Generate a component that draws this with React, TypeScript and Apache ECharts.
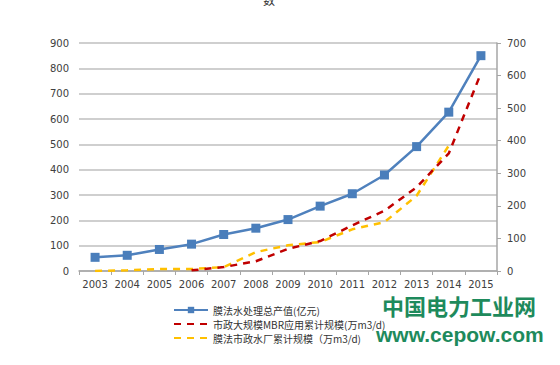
import React, { useEffect, useRef } from "react";
import * as echarts from "echarts";

const years = ["2003","2004","2005","2006","2007","2008","2009","2010","2011","2012","2013","2014","2015"];
const outputValue = [54, 62, 85, 106, 144, 169, 203, 256, 305, 379, 491, 627, 850];
const mbrScale = [null, null, null, 2, 12, 30, 68, 92, 140, 185, 257, 361, 607];
const plantScale = [0, 2, 6, 6, 12, 58, 79, 89, 128, 150, 231, 385, null];
const leftTicks = { min: 0, max: 900, interval: 100 };
const rightTicks = { min: 0, max: 700, interval: 100 };
const seriesNames = ["膜法水处理总产值(亿元)", "市政大规模MBR应用累计规模(万m3/d)", "膜法市政水厂累计规模（万m3/d)"];

export default function App() {
  const ref = useRef<HTMLDivElement>(null);
  useEffect(() => {
    const chart = echarts.init(ref.current!, null, { renderer: "svg" });
    const axisLabel = { color: "#404040", fontSize: 10, fontFamily: "DejaVu Sans" };
    chart.setOption({
      animation: false,
      backgroundColor: "#ffffff",
      grid: { left: 79, right: 63, top: 43, bottom: 94 },
      legend: {
        orient: "vertical",
        left: 168,
        top: 300,
        itemWidth: 34,
        itemHeight: 8,
        itemGap: 4,
        textStyle: { color: "#333", fontSize: 10, fontFamily: "Noto Sans CJK SC" },
        data: [
          { name: seriesNames[0] },
          { name: seriesNames[1], itemStyle: { opacity: 0 } },
          { name: seriesNames[2], itemStyle: { opacity: 0 } },
        ],
      },
      xAxis: {
        type: "category",
        data: years,
        boundaryGap: true,
        axisLine: { lineStyle: { color: "#a6a6a6", width: 1.5 } },
        axisTick: { show: true, length: 4, lineStyle: { color: "#a6a6a6" } },
        axisLabel: { ...axisLabel, margin: 8, interval: 0 },
      },
      yAxis: [
        {
          type: "value",
          ...leftTicks,
          axisLine: { show: false },
          axisTick: { show: false },
          axisLabel: { ...axisLabel, margin: 10 },
          splitLine: { lineStyle: { color: "#bfbfbf", width: 1.5 } },
        },
        {
          type: "value",
          ...rightTicks,
          position: "right",
          axisLine: { show: true, lineStyle: { color: "#a6a6a6", width: 1.5 } },
          axisTick: { show: true, length: 4, lineStyle: { color: "#a6a6a6" } },
          axisLabel: { ...axisLabel, margin: 10 },
          splitLine: { show: false },
        },
      ],
      series: [
        {
          name: seriesNames[0],
          type: "line",
          yAxisIndex: 0,
          data: outputValue,
          symbol: "rect",
          symbolSize: 9,
          lineStyle: { color: "#4f81bd", width: 2.5 },
          itemStyle: { color: "#4a7ebb" },
          z: 3,
        },
        {
          name: seriesNames[1],
          type: "line",
          yAxisIndex: 1,
          data: mbrScale,
          symbol: "none",
          lineStyle: { color: "#c00000", width: 2.5, type: [7, 6] },
          itemStyle: { color: "#c00000" },
          z: 2,
        },
        {
          name: seriesNames[2],
          type: "line",
          yAxisIndex: 1,
          data: plantScale,
          symbol: "none",
          lineStyle: { color: "#ffc000", width: 2.5, type: [7, 6] },
          itemStyle: { color: "#ffc000" },
          z: 1,
        },
      ],
      graphic: [
        {
          type: "text",
          left: 263,
          top: -7,
          style: { text: "数", fill: "#333", font: "12px 'Noto Sans CJK SC'" },
        },
        {
          type: "text",
          left: 382,
          top: 294,
          style: { text: "中国电力工业网", fill: "#1e8a5c", font: "bold 22px 'Noto Sans CJK SC'" },
        },
        {
          type: "text",
          left: 376,
          top: 324,
          style: { text: "www.cepow.com", fill: "#1e8a5c", font: "bold 21px 'Liberation Sans'" },
        },
      ],
    });
    return () => chart.dispose();
  }, []);
  return <div ref={ref} style={{ width: 560, height: 365, position: "absolute", left: 0, top: 0 }} />;
}
